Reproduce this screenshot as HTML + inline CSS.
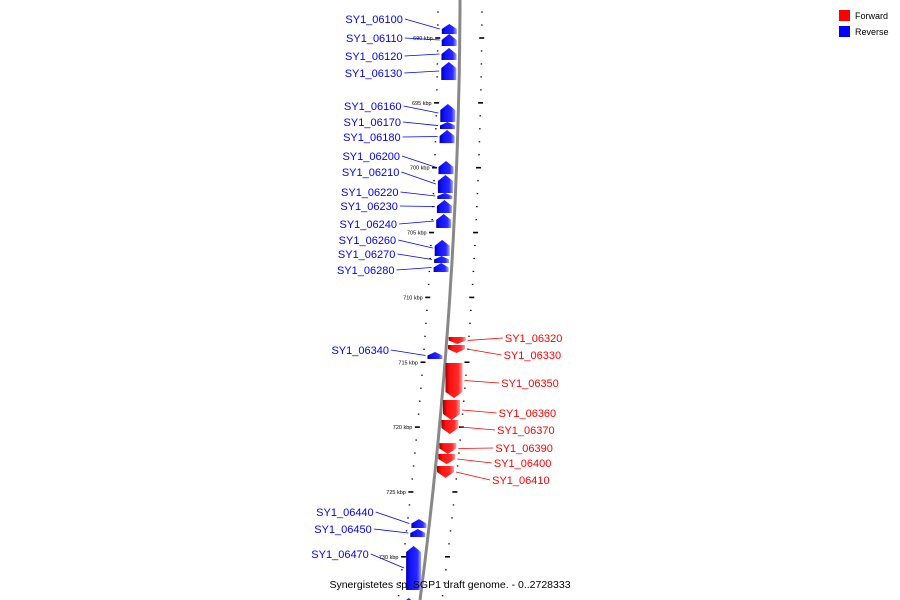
<!DOCTYPE html>
<html><head><meta charset="utf-8"><style>
body{margin:0;background:#fff;}
svg{display:block;font-family:"Liberation Sans",sans-serif;}
</style></head><body>
<svg id="chart" width="900" height="600" viewBox="0 0 900 600">
<defs>
<linearGradient id="gb" x1="0" x2="1" y1="0" y2="0"><stop offset="0" stop-color="#0000a0"/><stop offset="0.25" stop-color="#1010ff"/><stop offset="0.75" stop-color="#2a2aff"/><stop offset="1" stop-color="#a0a0ff"/></linearGradient>
<linearGradient id="gr" x1="0" x2="1" y1="0" y2="0"><stop offset="0" stop-color="#a00000"/><stop offset="0.25" stop-color="#ff1010"/><stop offset="0.75" stop-color="#ff2a2a"/><stop offset="1" stop-color="#ffa0a0"/></linearGradient>
<linearGradient id="ga" x1="0" x2="1"><stop offset="0" stop-color="#ccc"/><stop offset="0.5" stop-color="#555"/><stop offset="1" stop-color="#bbb"/></linearGradient>
</defs>
<g id="ticks"></g>
<g id="axis"></g>
<g id="genes"></g>
<g>
<rect x="839" y="10" width="11" height="11" fill="#f00"/>
<text x="855" y="19" font-size="9" fill="#000">Forward</text>
<rect x="839" y="26" width="11" height="11" fill="#00f"/>
<text x="855" y="35" font-size="9" fill="#000">Reverse</text>
</g>
<text x="450" y="588" font-size="10.5" text-anchor="middle" fill="#000">Synergistetes sp. SGP1 draft genome. - 0..2728333</text>
</svg>
<script>
const revNames=["SY1_06100","SY1_06110","SY1_06120","SY1_06130","SY1_06160","SY1_06170","SY1_06180","SY1_06200","SY1_06210","SY1_06220","SY1_06230","SY1_06240","SY1_06260","SY1_06270","SY1_06280","SY1_06340","SY1_06440","SY1_06450","SY1_06470",""];
const revStart=[688.92,689.69,690.77,691.85,695.09,696.48,697.09,699.48,700.56,701.95,702.49,703.57,705.57,706.81,707.35,714.21,727.09,727.86,729.17,733.18];
const revEnd=[689.69,690.62,691.70,693.24,696.48,697.02,698.10,700.49,701.95,702.41,703.49,704.65,706.81,707.35,708.04,714.75,727.78,728.47,732.56,734.5];
const revLabelY=[19,38,56,73,106,122,137,156,172,192,206,224,240,254,270,350,512,529,554,0];
const fwdNames=["SY1_06320","SY1_06330","SY1_06350","SY1_06360","SY1_06370","SY1_06390","SY1_06400","SY1_06410"];
const fwdStart=[713.05,713.67,715.06,717.91,719.45,721.23,722.07,723.0];
const fwdEnd=[713.59,714.29,717.76,719.45,720.53,722.07,722.85,723.92];
const fwdLabelY=[338,355,383,413,430,448,463,480];
const tickKbp=[];for(let k=687;k<=735;k++)tickKbp.push(k);

const NS="http://www.w3.org/2000/svg";
function yOf(k){return 38+(k-690)*12.97;}
function ax(y){return 460-0.003*y-1.06e-4*y*y;}
function mk(tag,attrs,parent){const e=document.createElementNS(NS,tag);for(const a in attrs)e.setAttribute(a,attrs[a]);parent.appendChild(e);return e;}
const gT=document.getElementById('ticks'),gA=document.getElementById('axis'),gG=document.getElementById('genes');
// axis
let d="";for(let y=0;y<=600;y+=10)d+=(y?"L":"M")+ax(y).toFixed(1)+","+y;
const al=mk('path',{d:d,stroke:'#888',"stroke-width":3,fill:'none'},gA);


// ticks
tickKbp.forEach(k=>{const y=yOf(k);if(y<5||y>598)return;const x=ax(y);const major=k%5===0;const w=major?5:1.5;
 const l=mk('line',{x1:x-22-w/2,x2:x-22+w/2,y1:y,y2:y,stroke:'#000',"stroke-width":major?1.6:1.2},gT);
 
 
 const r=mk('line',{x1:x+22-w/2,x2:x+22+w/2,y1:y,y2:y,stroke:'#000',"stroke-width":major?1.6:1.2},gT);
 
 
 if(major){const t=mk('text',{x:x-27,y:y+2,"font-size":5.5,"text-anchor":"end",fill:'#000'},gT);t.textContent=k+" kbp";
 
 }
});
function gene(name,s,e,ly,fwd){
 const y1=yOf(s),y2=yOf(e),ym=(y1+y2)/2,x=ax(ym);
 const xl=fwd?x+2:x-18,xr=fwd?x+19:x-3,xm=(xl+xr)/2;const h=Math.min(6,(y2-y1)*0.5);
 const pts=fwd?[[xl,y1],[xr,y1],[xr,y2-h],[xm,y2],[xl,y2-h]]:[[xl,y1+h],[xm,y1],[xr,y1+h],[xr,y2],[xl,y2]];
 const p=mk('polygon',{points:pts.map(q=>q[0].toFixed(1)+","+q[1].toFixed(1)).join(" "),fill:fwd?'url(#gr)':'url(#gb)'},gG);
 
 
 if(!name)return;
 const col=fwd?'#f00':'#00f';const lx=fwd?ax(ly)+58:ax(ly)-57;
 const ln=mk('line',{x1:fwd?lx-2:lx+2,y1:ly,x2:fwd?xr+2:xl-2,y2:ym,stroke:col,"stroke-width":0.8},gG);
 
 
 const t=mk('text',{x:lx,y:ly+4,"font-size":11,"text-anchor":fwd?'start':'end',fill:col},gG);t.textContent=name;
 
 
}
revNames.forEach((n,i)=>gene(n,revStart[i],revEnd[i],revLabelY[i],false));
fwdNames.forEach((n,i)=>gene(n,fwdStart[i],fwdEnd[i],fwdLabelY[i],true));
</script>
</body></html>
